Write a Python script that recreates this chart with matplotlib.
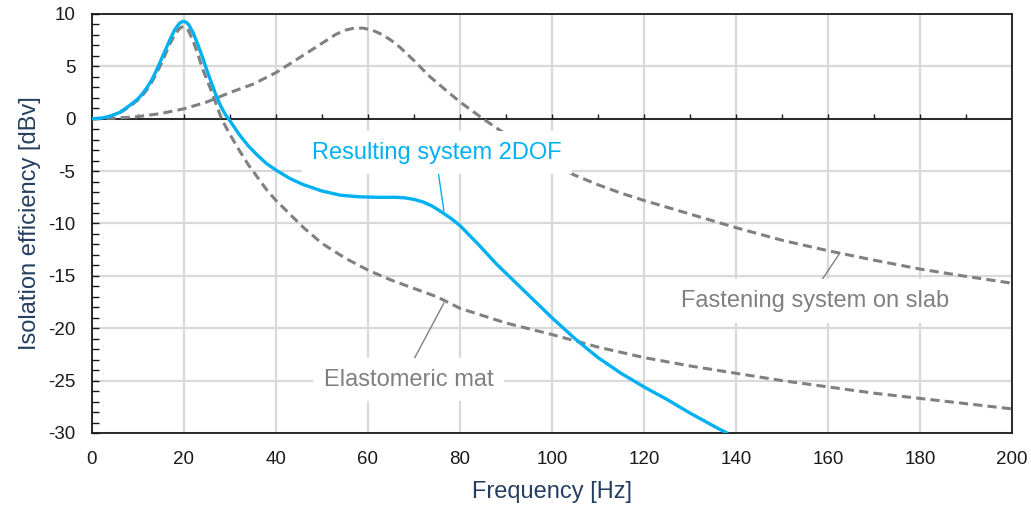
import matplotlib
matplotlib.use("Agg")
import matplotlib.pyplot as plt
from matplotlib.ticker import MultipleLocator

plt.rcParams["font.family"] = ["Liberation Sans", "DejaVu Sans"]
plt.rcParams["axes.unicode_minus"] = False

# values
freq_res = [0, 2, 4, 6, 8, 10, 11, 12, 13, 14, 15, 16, 17, 18, 19, 19.5, 20, 20.5, 21, 22, 23, 24, 25,
            26, 27, 28, 29, 30, 32, 34, 36, 38, 40, 43, 46, 50, 54, 58, 62, 64, 66, 68, 70, 72, 74,
            76, 78, 80, 82, 84, 88, 92, 96, 100, 105, 110, 115, 120, 125, 130, 135, 138]
resulting = [0, 0.05, 0.25, 0.6, 1.2, 1.9, 2.4, 3.0, 3.7, 4.6, 5.6, 6.6, 7.6, 8.5, 9.1, 9.25, 9.3,
             9.2, 9.0, 8.2, 7.1, 5.9, 4.6, 3.4, 2.2, 1.2, 0.4, -0.2, -1.5, -2.6, -3.5, -4.3, -4.9,
             -5.7, -6.3, -6.9, -7.3, -7.45, -7.5, -7.5, -7.5, -7.55, -7.7, -7.95, -8.35, -8.9, -9.5,
             -10.2, -11.1, -12.0, -13.9, -15.6, -17.3, -19.0, -21.0, -22.8, -24.3, -25.6, -26.8,
             -28.1, -29.3, -30.0]

freq_mat = [0, 2, 4, 6, 8, 10, 11, 12, 13, 14, 15, 16, 17, 18, 19, 19.5, 20, 20.5, 21, 22, 23, 24,
            25, 26, 27, 28, 29, 30, 32, 34, 36, 38, 40, 43, 46, 50, 55, 60, 65, 70, 75, 80, 90, 100,
            110, 120, 130, 140, 150, 160, 170, 180, 190, 200]
elastomeric = [0, 0.05, 0.25, 0.55, 1.1, 1.8, 2.25, 2.8, 3.5, 4.3, 5.2, 6.2, 7.2, 8.0, 8.6, 8.75,
               8.8, 8.7, 8.4, 7.4, 6.2, 4.8, 3.7, 2.6, 1.4, 0.2, -0.7, -1.5, -3.0, -4.4, -5.6, -6.8,
               -7.8, -9.1, -10.4, -11.9, -13.3, -14.45, -15.4, -16.2, -17.0, -18.1, -19.5, -20.6,
               -21.8, -22.8, -23.6, -24.3, -25.0, -25.6, -26.2, -26.7, -27.2, -27.7]

freq_fast = [0, 5, 10, 15, 20, 25, 30, 35, 40, 45, 50, 53, 55, 57, 59, 61, 63, 65, 67, 70, 73.5, 77,
             80, 85, 90, 95, 100, 105, 110, 115, 120, 130, 140, 150, 160, 170, 180, 190, 200]
fastening = [0, 0.05, 0.2, 0.5, 0.95, 1.6, 2.5, 3.3, 4.4, 5.8, 7.2, 8.05, 8.45, 8.65, 8.65, 8.45,
             8.05, 7.5, 6.8, 5.55, 4.0, 2.7, 1.6, 0, -1.5, -3.0, -4.3, -5.4, -6.3, -7.1, -7.8, -9.1,
             -10.4, -11.6, -12.6, -13.5, -14.35, -15.05, -15.7]

blue = "#00B0F0"
gray = "#808080"
navy = "#243F60"

fig = plt.figure(figsize=(10.31, 5.05), dpi=100)
ax = fig.add_axes([0.0892, 0.1426, 0.8924, 0.8297])

ax.plot(freq_mat, elastomeric, color=gray, lw=2.2, dashes=(3, 1.7), zorder=3)
ax.plot(freq_fast, fastening, color=gray, lw=2.2, dashes=(3, 1.7), zorder=3)
ax.plot(freq_res, resulting, color=blue, lw=2.4, zorder=4, solid_capstyle="round",
        solid_joinstyle="round")

ax.set_xlim(0, 200)
ax.set_ylim(-30, 10)
ax.xaxis.set_major_locator(MultipleLocator(20))
ax.yaxis.set_major_locator(MultipleLocator(5))
ax.yaxis.set_minor_locator(MultipleLocator(1))
ax.grid(True, which="major", color="#D9D9D9", lw=1.6)
ax.set_axisbelow(True)

ax.tick_params(axis="x", length=0, pad=13, labelsize=13.5, colors="#1a1a1a")
ax.tick_params(axis="y", which="both", direction="in", length=5, width=1, pad=12,
               labelsize=13.5, colors="#1a1a1a")
for s in ax.spines.values():
    s.set_color("#1a1a1a")
    s.set_linewidth(1.3)

# zero line with small ticks every 10 Hz
ax.axhline(0, color="#1a1a1a", lw=1.3, zorder=2)
ax.vlines(range(10, 200, 10), 0, 0.45, color="#1a1a1a", lw=1, zorder=2)

ax.set_xlabel("Frequency [Hz]", fontsize=17, color=navy, labelpad=9)
ax.set_ylabel("Isolation efficiency [dBv]", fontsize=17, color=navy, labelpad=5)

box = dict(boxstyle="square,pad=0.45", fc="white", ec="none")
ax.annotate("Resulting system 2DOF", xy=(76.5, -8.8), xytext=(75, -3.25), fontsize=17, color=blue,
            ha="center", va="center", bbox=box, zorder=5,
            arrowprops=dict(arrowstyle="-", color=blue, lw=1, relpos=(0.5, 0), shrinkA=0, shrinkB=0))
ax.annotate("Elastomeric mat", xy=(76.5, -17.6), xytext=(68.9, -24.9), fontsize=17, color=gray,
            ha="center", va="center", bbox=box, zorder=5,
            arrowprops=dict(arrowstyle="-", color=gray, lw=1, relpos=(0.5, 1), shrinkA=0, shrinkB=0))
ax.annotate("Fastening system on slab", xy=(162.6, -12.8), xytext=(157.2, -17.4), fontsize=17,
            color=gray, ha="center", va="center", bbox=box, zorder=5,
            arrowprops=dict(arrowstyle="-", color=gray, lw=1, relpos=(0.5, 1), shrinkA=0, shrinkB=0))

fig.savefig("out.png", dpi=100)
